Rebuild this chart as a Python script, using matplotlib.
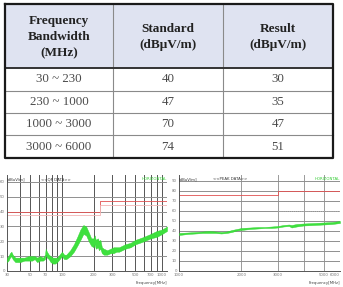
import matplotlib.pyplot as plt
import numpy as np

# ---- table data ----
header = ["Frequency\nBandwidth\n(MHz)", "Standard\n(dBμV/m)", "Result\n(dBμV/m)"]
bands = ["30 ~ 230", "230 ~ 1000", "1000 ~ 3000", "3000 ~ 6000"]
standard = [40, 47, 70, 74]
result = [30, 35, 47, 51]

# ---- QP scan 30 MHz - 1 GHz ----
qp_freq = [30, 31, 32, 33, 34, 36, 40, 44, 48, 52, 55, 58, 62, 66, 69, 70, 72, 75,
           78, 82, 86, 90, 95, 100, 105, 110, 120, 130, 140, 150, 160, 170, 180,
           190, 200, 205, 210, 220, 225, 232, 240, 250, 270, 290, 310, 330, 350,
           400, 450, 500, 550, 600, 700, 800, 900, 1000]
qp_low = [6, 7, 9, 10, 8, 6, 6, 7, 7, 7, 8, 6, 7, 7, 8, 11, 9, 8,
          6, 5, 5, 6, 8, 10, 8, 8, 10, 13, 17, 21, 25, 24, 20,
          17, 16, 18, 15, 16, 14, 15, 12, 11, 11, 12, 12, 13, 13,
          15, 16, 18, 19, 20, 22, 23, 25, 27]
qp_high = [9, 10, 12, 13, 11, 9, 9, 9, 10, 10, 10, 9, 10, 9, 11, 15, 13, 11,
           10, 9, 9, 9, 11, 13, 11, 11, 14, 18, 23, 28, 31, 30, 26,
           22, 22, 24, 21, 22, 20, 21, 16, 15, 14, 15, 16, 16, 16,
           18, 19, 21, 22, 23, 25, 27, 28, 30]
qp_lim_f = [30, 230, 230, 1000]
qp_lim = [40, 40, 47, 47]

# ---- peak scan 1 GHz - 6 GHz ----
pk_freq = [1000, 1100, 1200, 1300, 1400, 1500, 1600, 1700, 1800, 1900, 2000,
           2200, 2400, 2600, 2800, 3000, 3200, 3400, 3500, 3700, 4000, 4500,
           5000, 5500, 6000]
pk_low = [36, 37, 37.5, 38, 38, 38, 37.5, 38, 39, 40.5, 41,
          42, 42.5, 43, 43, 43.5, 44.5, 45, 43.5, 44.5, 45.5, 46,
          46.5, 47, 48]
pk_high = [38, 38.5, 39, 39.5, 40, 39.5, 39, 39.5, 41, 42, 43,
           43.5, 44, 44, 44.5, 45, 46, 46.5, 46, 47, 47.5, 48,
           48.5, 49, 50]
pk_lim_f = [1000, 3000, 3000, 6000]
pk_lim = [76, 76, 80, 80]
avg_lim_f = [3000, 6000]
avg_lim = [60, 60]

W, H = 343, 287
fig = plt.figure(figsize=(W / 100, H / 100), dpi=100)

# overlay in pixel coordinates for the table
ov = fig.add_axes([0, 0, 1, 1])
ov.set_xlim(0, W)
ov.set_ylim(H, 0)
ov.axis("off")

cols = [5, 113, 223, 333]
rows = [4, 68, 91, 113, 135, 158]
ov.fill_between([cols[0], cols[-1]], rows[0], rows[1], color="#dfe3f1", lw=0)
for y in rows[2:-1]:
    ov.plot([cols[0], cols[-1]], [y, y], color="#8a8a8a", lw=0.8)
for x in cols[1:-1]:
    ov.plot([x, x], [rows[0], rows[-1]], color="#8a8a8a", lw=0.8)
ov.plot([cols[0], cols[-1]], [rows[1], rows[1]], color="#333333", lw=1.4)
ov.plot([cols[0], cols[-1], cols[-1], cols[0], cols[0]],
        [rows[0], rows[0], rows[-1], rows[-1], rows[0]], color="#1a1a1a", lw=1.6)

serif = ["Liberation Serif", "DejaVu Serif"]
for i, txt in enumerate(header):
    cx = (cols[i] + cols[i + 1]) / 2
    ov.text(cx, (rows[0] + rows[1]) / 2 + 1, txt, ha="center", va="center",
            fontsize=9.5, fontweight="bold", family=serif, color="#222222",
            linespacing=1.45)
for r, (b, s, res) in enumerate(zip(bands, standard, result)):
    cy = (rows[r + 1] + rows[r + 2]) / 2
    for i, v in enumerate([b, str(s), str(res)]):
        cx = (cols[i] + cols[i + 1]) / 2
        ov.text(cx, cy, v, ha="center", va="center", fontsize=9.3,
                family=serif, color="#4a4a4a")


def scan_axes(rect, fmin, fmax, ymax_lab, ytop, xticks, vgrid, vcol, title):
    x0, y0, x1, y1 = rect
    ax = fig.add_axes([x0 / W, 1 - y1 / H, (x1 - x0) / W, (y1 - y0) / H])
    ax.set_xscale("log")
    ax.set_xlim(fmin, fmax)
    ax.set_ylim(0, ytop)
    for f in vgrid:
        ax.axvline(f, color=vcol, lw=0.7, zorder=1)
    for yv in range(10, ymax_lab + 1, 10):
        ax.axhline(yv, color="#8f8f8f", lw=0.7, zorder=1)
    ax.set_xticks(xticks)
    ax.set_xticklabels([str(t) for t in xticks])
    ax.get_xticklabels()[-1].set_ha("right")
    ax.xaxis.set_minor_locator(plt.NullLocator())
    ax.set_yticks(range(0, ymax_lab + 1, 10))
    ax.tick_params(length=0, labelsize=2.8, labelcolor="#777777", pad=1.5)
    for sp in ["top", "right"]:
        ax.spines[sp].set_visible(False)
    for sp in ["left", "bottom"]:
        ax.spines[sp].set_color("#555555")
        ax.spines[sp].set_linewidth(0.7)
    ax.text(0.0, 0.975, "[dBuV/m]", transform=ax.transAxes, fontsize=2.8,
            ha="left", va="top", color="#333333")
    ax.text(0.21, 0.975, title, transform=ax.transAxes, fontsize=2.8,
            ha="left", va="top", color="#333333")
    ax.text(1.0, 0.975, "HORIZONTAL", transform=ax.transAxes, fontsize=2.8,
            ha="right", va="top", color="#33cc33")
    ax.text(1.0, -0.1, "Frequency[MHz]", transform=ax.transAxes, fontsize=2.8,
            ha="right", va="top", color="#444444")
    return ax


axL = scan_axes((7, 175, 167, 271), 30, 1000, 60, 64.7,
                [30, 50, 70, 100, 200, 300, 500, 700, 1000],
                [40, 50, 60, 70, 80, 90, 100, 200, 300, 400, 500, 600, 700,
                 800, 900, 1000], "#555555", "<<QP DATA>>")
axL.plot(qp_lim_f, qp_lim, color="#e05050", lw=0.6, zorder=2)
axL.plot(qp_lim_f, np.array(qp_lim) - 2.2, color="#f2b5b5", lw=0.6, zorder=2)
axL.fill_between(qp_freq, qp_low, qp_high, color="#3ee03e", lw=0.3,
                 edgecolor="#2ed42e", zorder=3)

axR = scan_axes((179, 175, 340, 271), 1000, 6000, 90, 96,
                [1000, 2000, 3000, 5000, 6000],
                [2000, 3000, 4000, 5000, 6000], "#9a9a9a", "<<PEAK DATA>>")
axR.plot(pk_lim_f, pk_lim, color="#e05050", lw=0.6, zorder=2)
axR.plot(avg_lim_f, avg_lim, color="#bbbbbb", lw=0.6, ls=(0, (1, 1.5)), zorder=2)
axR.fill_between(pk_freq, pk_low, pk_high, color="#3ee03e", lw=0.3,
                 edgecolor="#2ed42e", zorder=3)

fig.savefig("out.png", dpi=100)
